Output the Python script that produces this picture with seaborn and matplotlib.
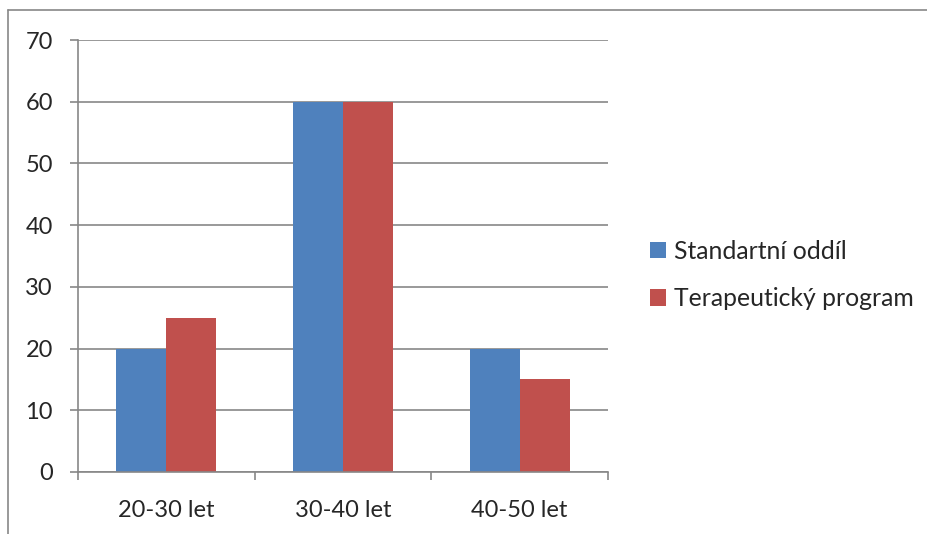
import matplotlib
matplotlib.use("Agg")
import matplotlib.pyplot as plt
from matplotlib.lines import Line2D
from matplotlib.patches import Patch
import seaborn as sns
import pandas as pd

# data
categories = ["20-30 let", "30-40 let", "40-50 let"]
standardni = [20, 60, 20]
terapeuticky = [25, 60, 15]
series_names = ["Standartní oddíl", "Terapeutický program"]
colors = ["#4F81BD", "#C0504D"]

df = pd.DataFrame({
    "kategorie": categories * 2,
    "hodnota": standardni + terapeuticky,
    "serie": [series_names[0]] * 3 + [series_names[1]] * 3,
})

sns.set_style("white")
plt.rcParams["font.family"] = ["Lato", "DejaVu Sans"]
grid_col = "#878787"

fig = plt.figure(figsize=(9.28, 5.34), dpi=100)
ax = fig.add_axes([78 / 928, 1 - 472 / 534, 530 / 928, 432 / 534])

sns.barplot(data=df, x="kategorie", y="hodnota", hue="serie",
            palette=colors, width=0.566, gap=0, saturation=1,
            edgecolor="none", linewidth=0, ax=ax, legend=False)

ax.set_xlim(-0.5, 2.5)
ax.set_ylim(0, 70)
ax.set_yticks(range(0, 71, 10))
ax.yaxis.grid(True, color=grid_col, linewidth=1.2)
ax.set_axisbelow(True)
ax.set_xlabel("")
ax.set_ylabel("")

for s in ["top", "right"]:
    ax.spines[s].set_visible(False)
for s in ["left", "bottom"]:
    ax.spines[s].set_color(grid_col)
    ax.spines[s].set_linewidth(1.2)

ax.tick_params(axis="y", direction="out", length=6, width=1.2, color=grid_col,
               labelsize=17, pad=12, left=True)
ax.tick_params(axis="x", which="major", length=0, labelsize=17, pad=20)
ax.set_xticks([-0.5, 0.5, 1.5, 2.5], minor=True)
ax.tick_params(axis="x", which="minor", direction="out", length=6, width=1.2,
               color=grid_col, bottom=True)

handles = [Patch(facecolor=c, edgecolor="none") for c in colors]
fig.legend(handles, series_names, loc="center left",
           bbox_to_anchor=(628 / 928, 1 - 275 / 534), frameon=False,
           fontsize=17.8, handlelength=0.65, handleheight=0.65,
           handletextpad=0.3, labelspacing=1.0)

# chart outer border (only top and left edges visible)
fig.add_artist(Line2D([8 / 928, 8 / 928], [0, 1 - 10 / 534],
                      transform=fig.transFigure, color=grid_col, linewidth=1.2))
fig.add_artist(Line2D([8 / 928, 1], [1 - 10 / 534, 1 - 10 / 534],
                      transform=fig.transFigure, color=grid_col, linewidth=1.2))

fig.savefig("out.png", dpi=100)
